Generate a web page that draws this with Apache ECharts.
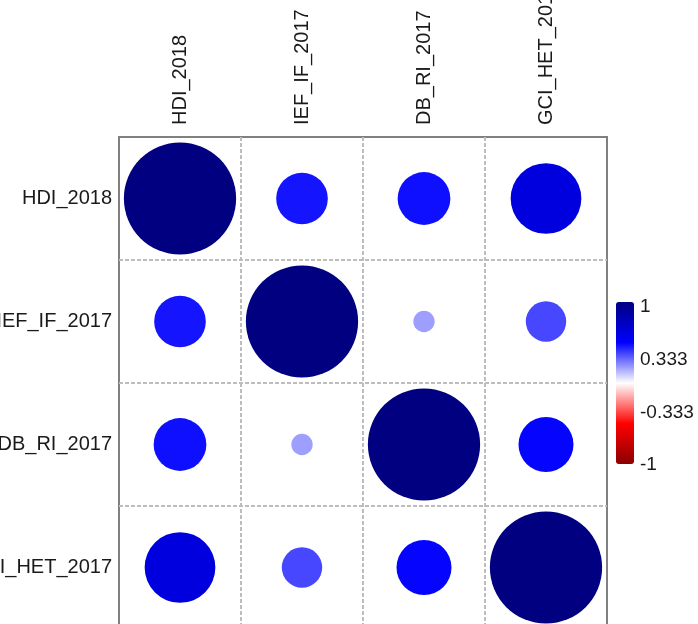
<!DOCTYPE html>
<html>
<head>
<meta charset="utf-8">
<style>
  html, body { margin: 0; padding: 0; background: #ffffff; }
  #chart { width: 698px; height: 624px; }
</style>
<script src="https://cdn.jsdelivr.net/npm/echarts@6/dist/echarts.min.js"></script>
</head>
<body>
<div id="chart"></div>
<script>
// Variables of the correlation matrix (same order on both axes)
const variables = ['HDI_2018', 'IEF_IF_2017', 'DB_RI_2017', 'GCI_HET_2017'];

// Correlation rows, one per variable
const corrHDI = [1.00, 0.46, 0.47, 0.63];
const corrIEF = [0.46, 1.00, 0.19, 0.36];
const corrDB  = [0.47, 0.19, 1.00, 0.49];
const corrGCI = [0.63, 0.36, 0.49, 1.00];

// Colour legend tick labels, bottom to top
const legendTicks = ['-1', '-0.333', '0.333', '1'];

// Diverging palette from -1 to 1
const palette = ['#8B0000', '#FF0000', '#FFFFFF', '#0000FF', '#000080'];

const rows = [corrHDI, corrIEF, corrDB, corrGCI];
const cells = [];
rows.forEach(function (row, r) {
  row.forEach(function (v, c) {
    cells.push([c, r, v]);
  });
});

const FONT = '"Liberation Sans", Arial, Helvetica, sans-serif';
const chart = echarts.init(document.getElementById('chart'));

chart.setOption({
  backgroundColor: '#ffffff',
  animation: false,
  grid: [
    {
      left: 119, top: 137, width: 488, height: 492,
      show: true, borderColor: '#808080', borderWidth: 2,
      backgroundColor: 'transparent',
      outerBoundsMode: 'none'
    },
    {
      left: 616, top: 307, width: 18, height: 158,
      show: false,
      outerBoundsMode: 'none'
    }
  ],
  xAxis: [
    {
      gridIndex: 0,
      type: 'category',
      position: 'top',
      data: variables,
      boundaryGap: true,
      axisLine: { show: false },
      axisTick: { show: false },
      axisLabel: {
        rotate: -90, margin: 12, fontSize: 20, color: '#1a1a1a',
        fontFamily: FONT, interval: 0
      },
      splitLine: {
        show: true, showMinLine: false, showMaxLine: false,
        lineStyle: { color: '#bdbdbd', type: [4, 2], width: 2 }
      }
    },
    {
      gridIndex: 1,
      type: 'value', min: 0, max: 1, show: false
    }
  ],
  yAxis: [
    {
      gridIndex: 0,
      type: 'category',
      inverse: true,
      data: variables,
      boundaryGap: true,
      axisLine: { show: false },
      axisTick: { show: false },
      axisLabel: {
        margin: 7, fontSize: 20, color: '#1a1a1a',
        fontFamily: FONT, interval: 0
      },
      splitLine: {
        show: true, showMinLine: false, showMaxLine: false,
        lineStyle: { color: '#bdbdbd', type: [4, 2], width: 2 }
      }
    },
    {
      gridIndex: 1,
      type: 'category',
      position: 'right',
      data: legendTicks,
      boundaryGap: false,
      axisLine: { show: false },
      axisTick: { show: false },
      splitLine: { show: false },
      axisLabel: {
        margin: 6, fontSize: 19, color: '#1a1a1a',
        fontFamily: FONT, interval: 0
      }
    }
  ],
  visualMap: {
    type: 'continuous',
    min: -1, max: 1,
    dimension: 2,
    seriesIndex: 0,
    calculable: false,
    hoverLink: false,
    orient: 'vertical',
    left: 616, top: 302,
    itemWidth: 18, itemHeight: 162,
    padding: 0,
    inRange: { color: palette }
  },
  series: [
    {
      type: 'custom',
      xAxisIndex: 0,
      yAxisIndex: 0,
      data: cells,
      encode: { x: 0, y: 1 },
      renderItem: function (params, api) {
        const center = api.coord([api.value(0), api.value(1)]);
        const size = api.size([1, 1]);
        const radius = 0.46 * Math.min(size[0], size[1]) * Math.abs(api.value(2));
        return {
          type: 'circle',
          shape: { cx: center[0], cy: center[1], r: radius },
          style: { fill: api.visual('color') }
        };
      },
      clip: false,
      z: 3
    }
  ]
});
</script>
</body>
</html>
